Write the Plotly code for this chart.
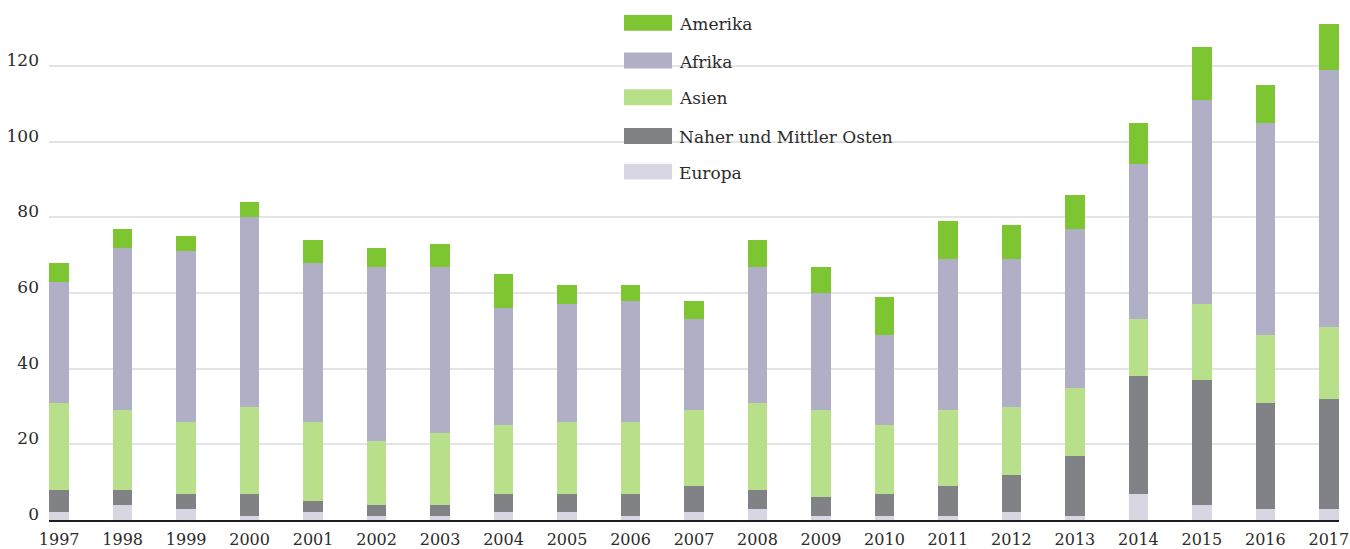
import plotly.graph_objects as go

years = list(range(1997, 2018))
europa = [2, 4, 3, 1, 2, 1, 1, 2, 2, 1, 2, 3, 1, 1, 1, 2, 1, 7, 4, 3, 3]
naher = [6, 4, 4, 6, 3, 3, 3, 5, 5, 6, 7, 5, 5, 6, 8, 10, 16, 31, 33, 28, 29]
asien = [23, 21, 19, 23, 21, 17, 19, 18, 19, 19, 20, 23, 23, 18, 20, 18, 18, 15, 20, 18, 19]
afrika = [32, 43, 45, 50, 42, 46, 44, 31, 31, 32, 24, 36, 31, 24, 40, 39, 42, 41, 54, 56, 68]
amerika = [5, 5, 4, 4, 6, 5, 6, 9, 5, 4, 5, 7, 7, 10, 10, 9, 9, 11, 14, 10, 12]

series_names = ["Europa", "Naher und Mittler Osten", "Asien", "Afrika", "Amerika"]
series_values = [europa, naher, asien, afrika, amerika]
series_colors = ["#d9d6e3", "#818286", "#b8df8a", "#b0afc5", "#7dc531"]

y_ticks = [0, 20, 40, 60, 80, 100, 120]

FONT = "DejaVu Serif"
TXT = "#2b2b2b"

W, H = 1350, 549
ML, MR, MT, MB = 49, 11, 0, 25
PW, PH = W - ML - MR, H - MT - MB

fig = go.Figure()
for name, vals, col in zip(series_names, series_values, series_colors):
    fig.add_trace(go.Bar(x=years, y=vals, name=name, marker=dict(color=col, line=dict(width=0)),
                         width=0.307, showlegend=False))


def px_x(p):
    return (p - ML) / PW


def px_y(p):
    return (H - MB - p) / PH


shapes = [dict(type="rect", xref="paper", yref="paper", x0=px_x(609), x1=px_x(914),
               y0=px_y(200), y1=px_y(0), fillcolor="white", line=dict(width=0), layer="between")]
annotations = []
row_centers = [23, 61, 98, 137, 173]
for i, (name, col) in enumerate(zip(series_names[::-1], series_colors[::-1])):
    cy = row_centers[i]
    shapes.append(dict(type="rect", xref="paper", yref="paper", x0=px_x(624), x1=px_x(672),
                       y0=px_y(cy + 8), y1=px_y(cy - 8), fillcolor=col, line=dict(width=0), layer="above"))
    annotations.append(dict(text=name, xref="paper", yref="paper", x=px_x(677), y=px_y(cy + 1),
                            xanchor="left", yanchor="middle", showarrow=False,
                            font=dict(family=FONT, size=17, color=TXT)))

fig.update_layout(
    barmode="stack",
    width=W, height=H,
    margin=dict(l=ML, r=MR, t=MT, b=MB, pad=0),
    paper_bgcolor="white", plot_bgcolor="white",
    font=dict(family=FONT, size=17, color=TXT),
    shapes=shapes,
    annotations=annotations,
    xaxis=dict(range=[1997 - 0.16, 2017 + 0.16], tickvals=years, ticktext=[str(y) for y in years],
               showgrid=False, zeroline=False, showline=True, linecolor="#1e1e1e", linewidth=2,
               ticks="", tickfont=dict(family=FONT, size=16, color=TXT), ticklabelstandoff=4,
               ticklabeloverflow="allow", fixedrange=True),
    yaxis=dict(range=[0, PH / 3.8125], tickvals=y_ticks, showgrid=True, gridcolor="#e4e4e4",
               gridwidth=2, zeroline=False, showline=False, ticks="",
               tickfont=dict(family=FONT, size=17, color=TXT), ticklabelshift=-6,
               ticklabelstandoff=9, fixedrange=True),
    bargap=0,
)

fig.write_html("out.html", config={"displayModeBar": False},
               post_script="document.body.style.margin='0px';document.body.style.overflow='hidden';")
